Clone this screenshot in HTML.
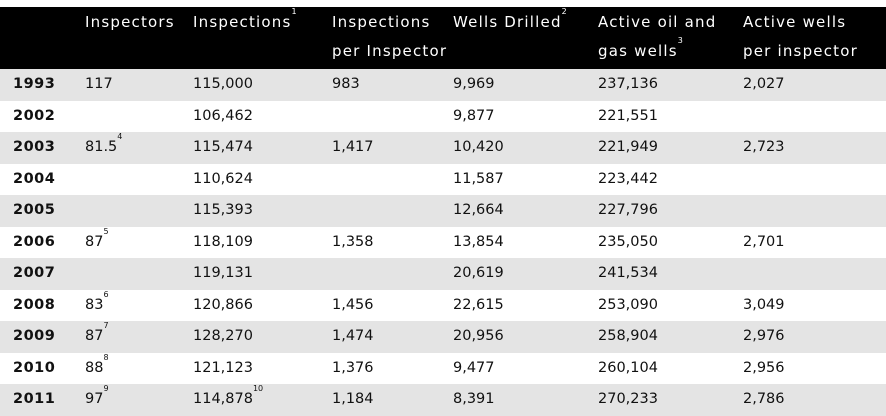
<!DOCTYPE html>
<html><head><meta charset="utf-8"><style>
body{margin:0;width:886px;height:415px;background:#fff;font-family:"DejaVu Sans","Liberation Sans",sans-serif;overflow:hidden;position:relative}
.hdr{position:absolute;left:0;top:7px;width:886px;height:62px;background:#000}
.h{position:absolute;color:#fff;font-size:15px;letter-spacing:1.2px;line-height:29px;top:1px;white-space:nowrap}
.row{position:absolute;left:0;width:886px;height:31.5px}
.g{background:#e4e4e4}
.c{position:absolute;top:0;line-height:31.5px;font-size:14.5px;color:#111;white-space:nowrap}
.y{font-weight:bold;left:13px;letter-spacing:0.5px}
sup{font-size:8px;vertical-align:top;line-height:0;position:relative;top:5px;letter-spacing:0}
.h sup{top:4px}
</style></head><body>
<div class="hdr">
<div class="h" style="left:85px">Inspectors</div>
<div class="h" style="left:193px">Inspections<sup>1</sup></div>
<div class="h" style="left:332px">Inspections<br>per Inspector</div>
<div class="h" style="left:453px">Wells Drilled<sup>2</sup></div>
<div class="h" style="left:598px">Active oil and<br>gas wells<sup>3</sup></div>
<div class="h" style="left:743px">Active wells<br>per inspector</div>
</div>
<div id="body"></div>
<script>
const years=["1993","2002","2003","2004","2005","2006","2007","2008","2009","2010","2011"];
const inspectors=["117","","81.5<sup>4</sup>","","","87<sup>5</sup>","","83<sup>6</sup>","87<sup>7</sup>","88<sup>8</sup>","97<sup>9</sup>"];
const inspections=["115,000","106,462","115,474","110,624","115,393","118,109","119,131","120,866","128,270","121,123","114,878<sup>10</sup>"];
const perInspector=["983","","1,417","","","1,358","","1,456","1,474","1,376","1,184"];
const wellsDrilled=["9,969","9,877","10,420","11,587","12,664","13,854","20,619","22,615","20,956","9,477","8,391"];
const activeWells=["237,136","221,551","221,949","223,442","227,796","235,050","241,534","253,090","258,904","260,104","270,233"];
const wellsPerInspector=["2,027","","2,723","","","2,701","","3,049","2,976","2,956","2,786"];
const cols=[[years,13,"y"],[inspectors,85,""],[inspections,193,""],[perInspector,332,""],[wellsDrilled,453,""],[activeWells,598,""],[wellsPerInspector,743,""]];
const names=["year","inspectors","inspections","per-inspector","wells-drilled","active-wells","wells-per-inspector"];
const b=document.getElementById("body");
years.forEach((y,i)=>{
 const r=document.createElement("div");
 r.className="row"+(i%2===0?" g":"");
 r.style.top=(69+i*31.5)+"px";
 
 
 cols.forEach((c,j)=>{
  const d=document.createElement("div");
  d.className="c "+c[2];
  d.style.left=c[1]+"px";
  d.innerHTML=c[0][i];
  
  
  r.appendChild(d);
 });
 b.appendChild(r);
});
</script>
</body></html>
